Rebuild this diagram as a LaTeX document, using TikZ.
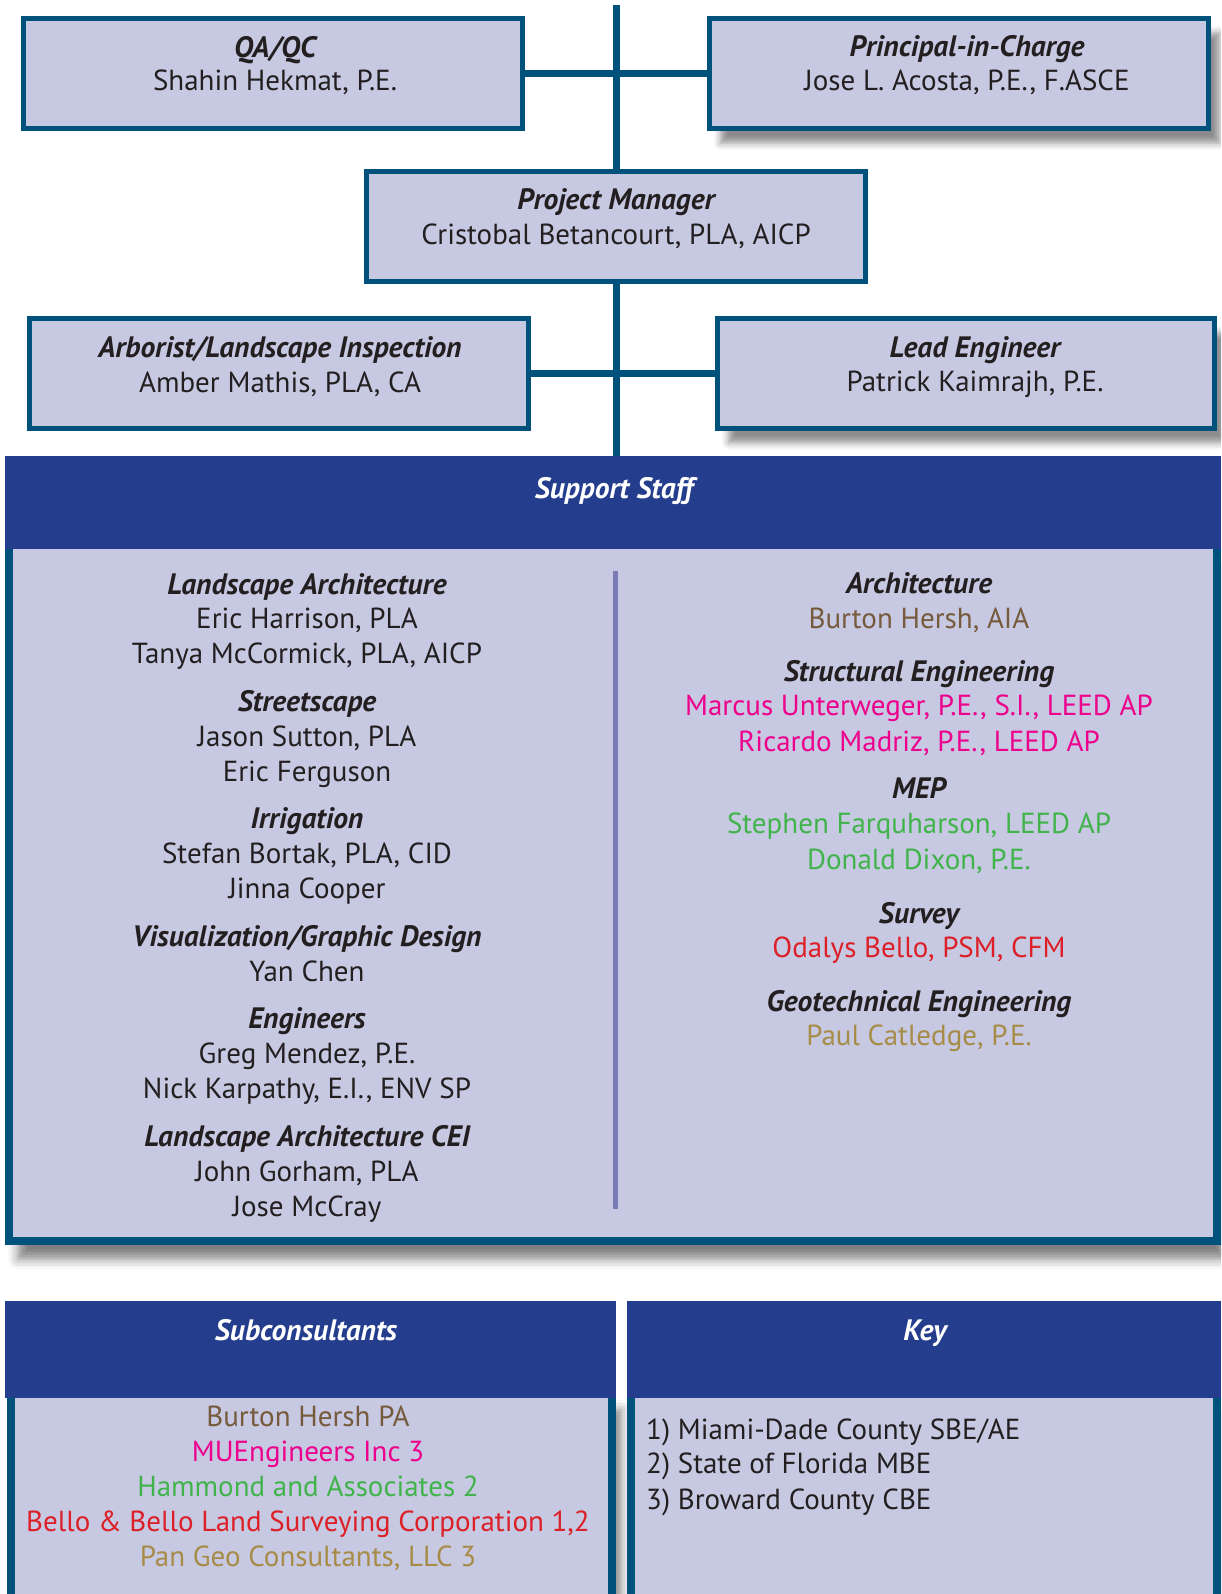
\documentclass[tikz,border=0pt]{standalone}
\usepackage{fontspec}
\setmainfont{PT Sans}
\usetikzlibrary{shadows.blur}
\definecolor{orgcolor0001}{RGB}{0,82,125}
\definecolor{orgcolor0002}{RGB}{199,200,225}
\definecolor{orgcolor0003}{RGB}{37,61,141}
\definecolor{orgcolor0004}{RGB}{35,31,32}
\definecolor{orgcolor0005}{RGB}{121,123,181}
\definecolor{orgcolor0006}{RGB}{118,90,60}
\definecolor{orgcolor0007}{RGB}{236,0,140}
\definecolor{orgcolor0008}{RGB}{64,180,75}
\definecolor{orgcolor0009}{RGB}{220,32,40}
\definecolor{orgcolor0010}{RGB}{166,140,70}
\begin{document}
\begin{tikzpicture}[yscale=-1
,bstyle0/.style={draw=orgcolor0001,fill=orgcolor0002,line width=5pt,inner sep=0pt,minimum width=499pt,minimum height=110pt}
,bstyle1/.style={bstyle0,blur shadow={shadow xshift=11pt,shadow yshift=-14pt,shadow blur radius=7pt,shadow opacity=45}}
,bstyle2/.style={draw=orgcolor0001,fill=orgcolor0002,line width=8pt,inner sep=0pt,blur shadow={shadow xshift=9pt,shadow yshift=-18pt,shadow blur radius=10pt,shadow opacity=50}}
,bstyle3/.style={fill=orgcolor0003,inner sep=0pt}
,lstyle0/.style={draw=orgcolor0001,line width=7pt}
,lstyle1/.style={draw=orgcolor0005,line width=5pt}
,tstyle0/.style={anchor=base,inner sep=0pt,text=orgcolor0004,font=\fontsize{29pt}{35pt}\selectfont}
,tstyle1/.style={tstyle0,font=\fontsize{29.5pt}{35pt}\selectfont\bfseries\itshape}
,tstyle2/.style={tstyle1,text=white}
,tstyle3/.style={tstyle0,anchor=base west}
]
\useasboundingbox (0pt,0pt) rectangle (1221pt,1594pt);
\clip (0pt,0pt) rectangle (1221pt,1594pt);
\coordinate (top) at (616pt,5pt);
\coordinate (divtop) at (615pt,571pt);
\coordinate (divbot) at (615pt,1209pt);
\node (qa) at (273pt,74pt)[bstyle0]{};
\node (pic) at (959pt,74pt)[bstyle1]{};
\node (pm) at (616pt,226.5pt)[bstyle0]{};
\node (arb) at (279pt,373.5pt)[bstyle0]{};
\node (lead) at (966pt,373.5pt)[bstyle1,minimum width=497pt]{};
\node (ssbody) at (613pt,893pt)[bstyle2,minimum width=1208pt,minimum height=696pt]{};
\node (sshead) at (613pt,502.5pt)[bstyle3,minimum width=1216pt,minimum height=93pt]{};
\node (subbody) at (311.5pt,1506pt)[bstyle2,minimum width=601pt,minimum height=228pt]{};
\node (subhead) at (310.5pt,1349.5pt)[bstyle3,minimum width=611pt,minimum height=97pt]{};
\node (keybody) at (924pt,1506pt)[bstyle2,minimum width=586pt,minimum height=228pt]{};
\node (keyhead) at (924pt,1349.5pt)[bstyle3,minimum width=594pt,minimum height=97pt]{};
\draw[lstyle0] (top) -- (pm.north);
\draw[lstyle0] (pm.south) -- (pm.south |- sshead.north);
\draw[lstyle0] (qa.east) -- (pic.west);
\draw[lstyle0] (arb.east) -- (lead.west);
\draw[lstyle1] (divtop) -- (divbot);
\node (qat) at (275pt,58pt)[tstyle1]{QA/QC};
\node (qan) at (275pt,91pt)[tstyle0]{Shahin Hekmat, P.E.};
\node (pict) at (967pt,57pt)[tstyle1]{Principal-in-Charge};
\node (picn) at (967pt,91pt)[tstyle0]{Jose L. Acosta, P.E., F.ASCE};
\node (pmt) at (616pt,210pt)[tstyle1]{Project Manager};
\node (pmn) at (616pt,245pt)[tstyle0]{Cristobal Betancourt, PLA, AICP};
\node (arbt) at (280pt,357pt)[tstyle1]{Arborist/Landscape Inspection};
\node (arbn) at (280pt,392pt)[tstyle0]{Amber Mathis, PLA, CA};
\node (leadt) at (975pt,357pt)[tstyle1]{Lead Engineer};
\node (leadn) at (975pt,391pt)[tstyle0]{Patrick Kaimrajh, P.E.};
\node (sst) at (614pt,498pt)[tstyle2]{Support Staff};
\node (la1t) at (307pt,594pt)[tstyle1]{Landscape Architecture};
\node (la1a) at (307pt,628.8pt)[tstyle0]{Eric Harrison, PLA};
\node (la1b) at (307pt,663.6pt)[tstyle0]{Tanya McCormick, PLA, AICP};
\node (stt) at (307pt,711pt)[tstyle1]{Streetscape};
\node (sta) at (307pt,746pt)[tstyle0]{Jason Sutton, PLA};
\node (stb) at (307pt,781pt)[tstyle0]{Eric Ferguson};
\node (irt) at (307pt,828pt)[tstyle1]{Irrigation};
\node (ira) at (307pt,863pt)[tstyle0]{Stefan Bortak, PLA, CID};
\node (irb) at (307pt,898pt)[tstyle0]{Jinna Cooper};
\node (vgt) at (307pt,946pt)[tstyle1]{Visualization/Graphic Design};
\node (vga) at (307pt,981pt)[tstyle0]{Yan Chen};
\node (ent) at (307pt,1028pt)[tstyle1]{Engineers};
\node (ena) at (307pt,1063pt)[tstyle0]{Greg Mendez, P.E.};
\node (enb) at (307pt,1098pt)[tstyle0]{Nick Karpathy, E.I., ENV SP};
\node (la2t) at (307pt,1146pt)[tstyle1]{Landscape Architecture CEI};
\node (la2a) at (307pt,1181pt)[tstyle0]{John Gorham, PLA};
\node (la2b) at (307pt,1216pt)[tstyle0]{Jose McCray};
\node (art) at (919pt,593pt)[tstyle1]{Architecture};
\node (ara) at (919pt,628pt)[tstyle0,text=orgcolor0006]{Burton Hersh, AIA};
\node (set) at (919pt,681pt)[tstyle1]{Structural Engineering};
\node (sea) at (919pt,715pt)[tstyle0,text=orgcolor0007]{Marcus Unterweger, P.E., S.I., LEED AP};
\node (seb) at (919pt,751pt)[tstyle0,text=orgcolor0007]{Ricardo Madriz, P.E., LEED AP};
\node (mept) at (919pt,798pt)[tstyle1]{MEP};
\node (mepa) at (919pt,833pt)[tstyle0,text=orgcolor0008]{Stephen Farquharson, LEED AP};
\node (mepb) at (919pt,869pt)[tstyle0,text=orgcolor0008]{Donald Dixon, P.E.};
\node (svt) at (919pt,923pt)[tstyle1]{Survey};
\node (sva) at (919pt,957pt)[tstyle0,text=orgcolor0009]{Odalys Bello, PSM, CFM};
\node (get) at (919pt,1011pt)[tstyle1]{Geotechnical Engineering};
\node (gea) at (919pt,1045pt)[tstyle0,text=orgcolor0010]{Paul Catledge, P.E.};
\node (subt) at (306pt,1340pt)[tstyle2]{Subconsultants};
\node (suba) at (308pt,1426pt)[tstyle0,text=orgcolor0006]{Burton Hersh PA};
\node (subb) at (308pt,1461pt)[tstyle0,text=orgcolor0007]{MUEngineers Inc 3};
\node (subc) at (308pt,1496pt)[tstyle0,text=orgcolor0008]{Hammond and Associates 2};
\node (subd) at (308pt,1531pt)[tstyle0,text=orgcolor0009]{Bello \& Bello Land Surveying Corporation 1,2};
\node (sube) at (308pt,1566pt)[tstyle0,text=orgcolor0010]{Pan Geo Consultants, LLC 3};
\node (keyt) at (925pt,1340pt)[tstyle2]{Key};
\node (keya) at (646pt,1439pt)[tstyle3]{1) Miami-Dade County SBE/AE};
\node (keyb) at (646pt,1473pt)[tstyle3]{2) State of Florida MBE};
\node (keyc) at (646pt,1509pt)[tstyle3]{3) Broward County CBE};
\end{tikzpicture}
\end{document}
